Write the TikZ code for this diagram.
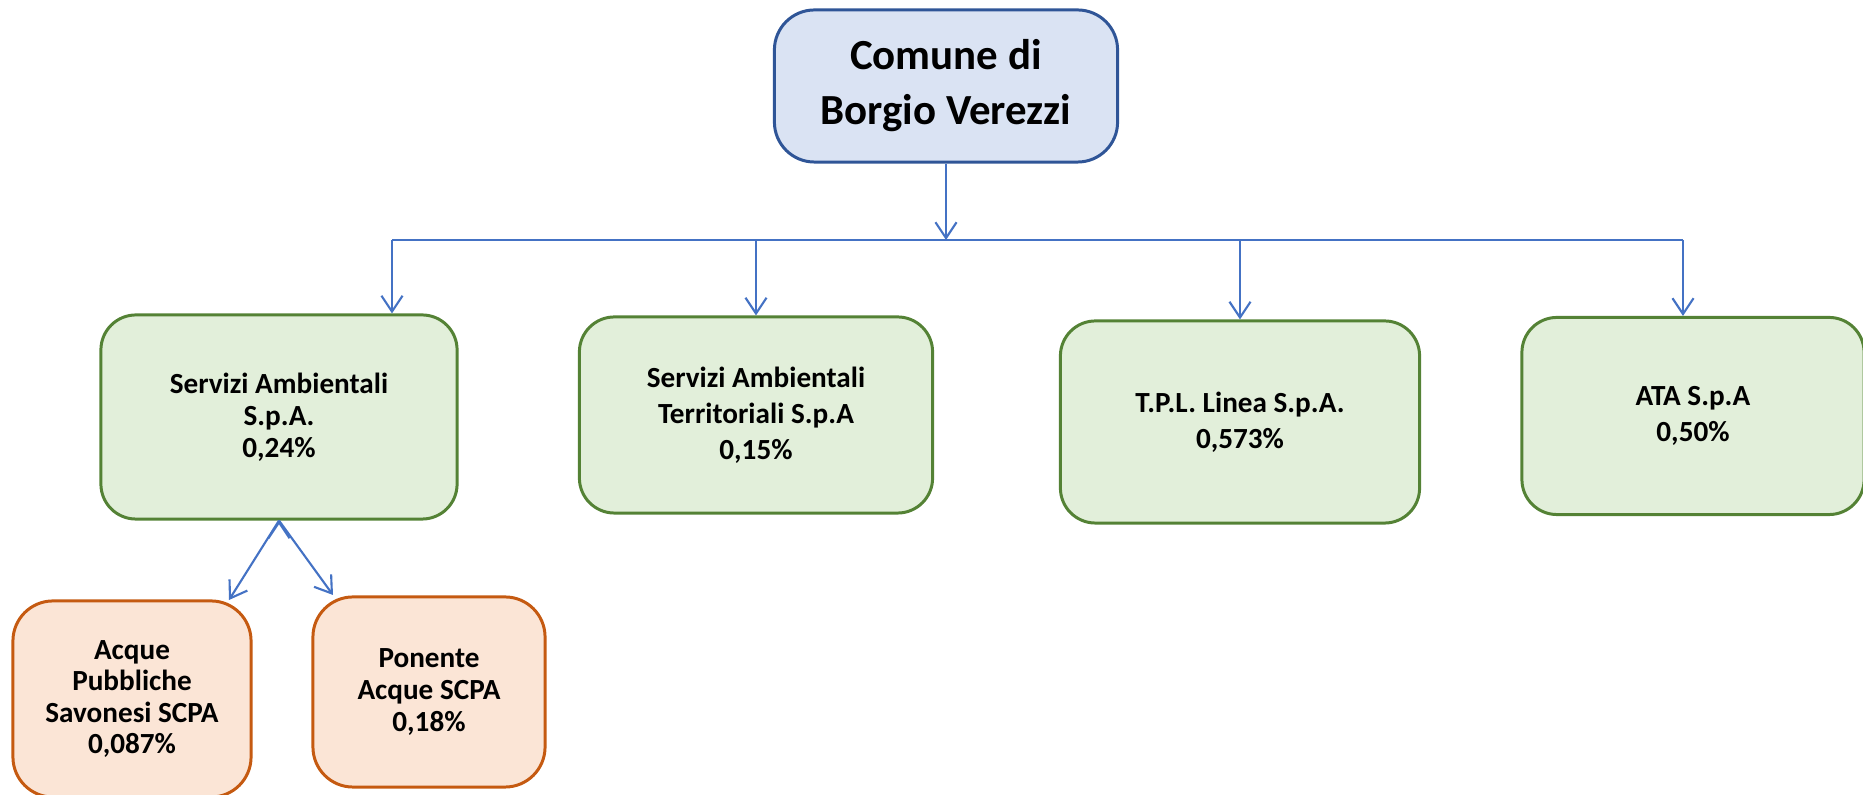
\documentclass[tikz,border=0pt]{standalone}
\usepackage{fontspec}
\setmainfont{Carlito}
\usetikzlibrary{arrows.meta}
\definecolor{comuneline}{HTML}{2F5597}
\definecolor{comunefill}{HTML}{DAE3F3}
\definecolor{greenline}{HTML}{548235}
\definecolor{greenfill}{HTML}{E2EFDA}
\definecolor{orangeline}{HTML}{C55A11}
\definecolor{orangefill}{HTML}{FBE5D6}
\definecolor{linkblue}{HTML}{4472C4}
\begin{document}
\begin{tikzpicture}[x=0.01cm,y=-0.01cm,
  base box/.style={draw,line width=0.85pt,align=center,inner sep=0pt,rounded corners=0.35cm},
  comune node/.style={base box,draw=comuneline,fill=comunefill,rounded corners=0.4cm,
    font=\bfseries\fontsize{12.2}{15.6}\selectfont},
  green node/.style={base box,draw=greenline,fill=greenfill,
    font=\bfseries\fontsize{8.3}{10.2}\selectfont},
  orange node/.style={base box,draw=orangeline,fill=orangefill,rounded corners=0.4cm,
    font=\bfseries\fontsize{8.3}{9}\selectfont},
  link/.style={draw=linkblue,line width=0.6pt,-{Straight Barb[length=4.5pt,width=6pt]}}]

  \useasboundingbox (0,0) rectangle (1863,795);

  \node[comune node,minimum width=3.43cm,minimum height=1.52cm] (comune) at (946,86) {Comune di\\Borgio Verezzi};

  \node[green node,minimum width=3.56cm,minimum height=2.04cm,
    font=\bfseries\fontsize{8.3}{9.1}\selectfont] (sa) at (279,417) {Servizi Ambientali\\S.p.A.\\0,24\%};
  \node[green node,minimum width=3.53cm,minimum height=1.96cm] (sat) at (756,415) {Servizi Ambientali\\Territoriali S.p.A\\0,15\%};
  \node[green node,minimum width=3.59cm,minimum height=2.02cm] (tpl) at (1240,422) {T.P.L. Linea S.p.A.\\0,573\%};
  \node[green node,minimum width=3.42cm,minimum height=1.97cm] (ata) at (1693,416) {ATA S.p.A\\0,50\%};

  \node[orange node,minimum width=2.38cm,minimum height=1.96cm] (aps) at (132,699) {Acque\\Pubbliche\\Savonesi SCPA\\0,087\%};
  \node[orange node,minimum width=2.32cm,minimum height=1.90cm] (pa) at (429,692) {Ponente\\Acque SCPA\\0,18\%};

  \coordinate (busL) at (392,240);
  \coordinate (busR) at (1683,240);
  \coordinate (apsin) at (229,600);
  \coordinate (pain) at (333,595);

  \draw[draw=linkblue,line width=0.6pt] (busL) -- (busR);
  \path[link]
   (comune.south) edge (comune.south |- busL)
   (busL) edge (busL |- sa.north)
   (sat.north |- busL) edge (sat.north)
   (tpl.north |- busL) edge (tpl.north)
   (busR) edge (busR |- ata.north)
   (sa.south) edge (apsin)
   (sa.south) edge (pain);
\end{tikzpicture}
\end{document}
